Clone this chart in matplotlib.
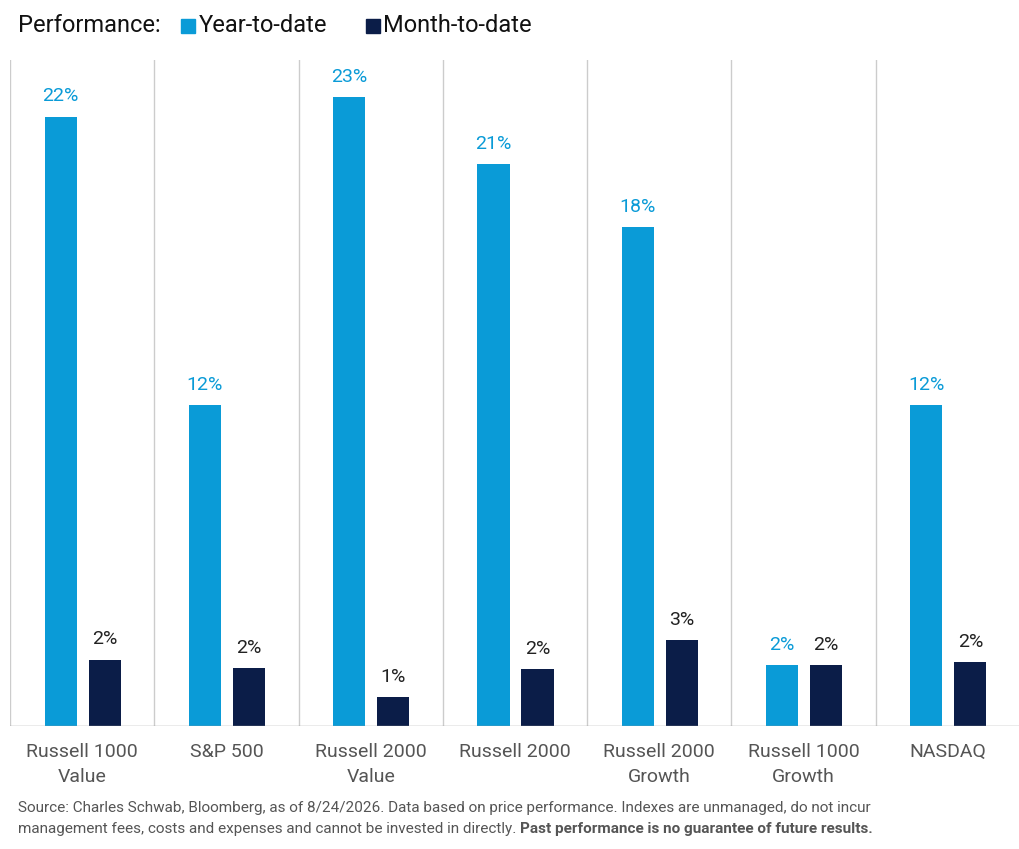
import matplotlib
matplotlib.use("Agg")
import matplotlib.pyplot as plt
from matplotlib.patches import Rectangle

categories = ["Russell 1000\nValue", "S&P 500", "Russell 2000\nValue", "Russell 2000",
              "Russell 2000\nGrowth", "Russell 1000\nGrowth", "NASDAQ"]
ytd = [22.0, 11.6, 22.7, 20.3, 18.0, 2.2, 11.6]
mtd = [2.4, 2.1, 1.05, 2.06, 3.1, 2.2, 2.3]
ytd_labels = ["22%", "12%", "23%", "21%", "18%", "2%", "12%"]
mtd_labels = ["2%", "2%", "1%", "2%", "3%", "2%", "2%"]

C_YTD = "#0a9bd7"
C_MTD = "#0b1d48"
plt.rcParams['font.family'] = ['Roboto', 'DejaVu Sans']

fig = plt.figure(figsize=(10.2, 8.49), dpi=100)
ax = fig.add_axes([10/1020, 1-726/849, 1010/1020, 666/849])
n = len(categories)
ax.set_xlim(0, n)
ax.set_ylim(0, 24.04)
w = 0.222
for i in range(n):
    x1 = i + 0.24 + w/2
    x2 = i + 0.545 + w/2
    ax.bar(x1, ytd[i], w, color=C_YTD)
    ax.bar(x2, mtd[i], w, color=C_MTD)
    ax.text(x1, ytd[i] + 0.4, ytd_labels[i], ha="center", va="bottom", color=C_YTD, fontsize=14)
    ax.text(x2, mtd[i] + 0.4, mtd_labels[i], ha="center", va="bottom", color="#222222", fontsize=14)
for i in range(n + 1):
    ax.axvline(i, color="#cccccc", lw=1, zorder=0)
for s in ax.spines.values():
    s.set_visible(False)
ax.axhline(0, color="#999999", lw=1)
ax.set_yticks([])
ax.set_xticks([i + 0.5 for i in range(n)])
ax.set_xticklabels(categories, fontsize=14, color="#555555", linespacing=1.5)
ax.tick_params(axis="x", length=0, pad=12)

fig.text(18/1020, 1-26/849, "Performance:", fontsize=17, va="center", color="#111111")
fig.patches.append(Rectangle((181/1020, 1-33/849), 14/1020, 14/849, transform=fig.transFigure, color=C_YTD))
fig.text(199/1020, 1-26/849, "Year-to-date", fontsize=17, va="center", color="#111111")
fig.patches.append(Rectangle((366/1020, 1-33/849), 14/1020, 14/849, transform=fig.transFigure, color=C_MTD))
fig.text(383/1020, 1-26/849, "Month-to-date", fontsize=17, va="center", color="#111111")

fig.text(18/1020, 1-808/849, "Source: Charles Schwab, Bloomberg, as of 8/24/2026. Data based on price performance. Indexes are unmanaged, do not incur",
         fontsize=11, va="center", color="#555555")
t1 = fig.text(18/1020, 1-829/849, "management fees, costs and expenses and cannot be invested in directly. ",
         fontsize=11, va="center", color="#555555")
fig.canvas.draw()
bb = t1.get_window_extent()
fig.text(bb.x1/1020, 1-829/849, "Past performance is no guarantee of future results.",
         fontsize=11, va="center", color="#555555", fontweight="bold")
fig.savefig("out.png", dpi=100)
